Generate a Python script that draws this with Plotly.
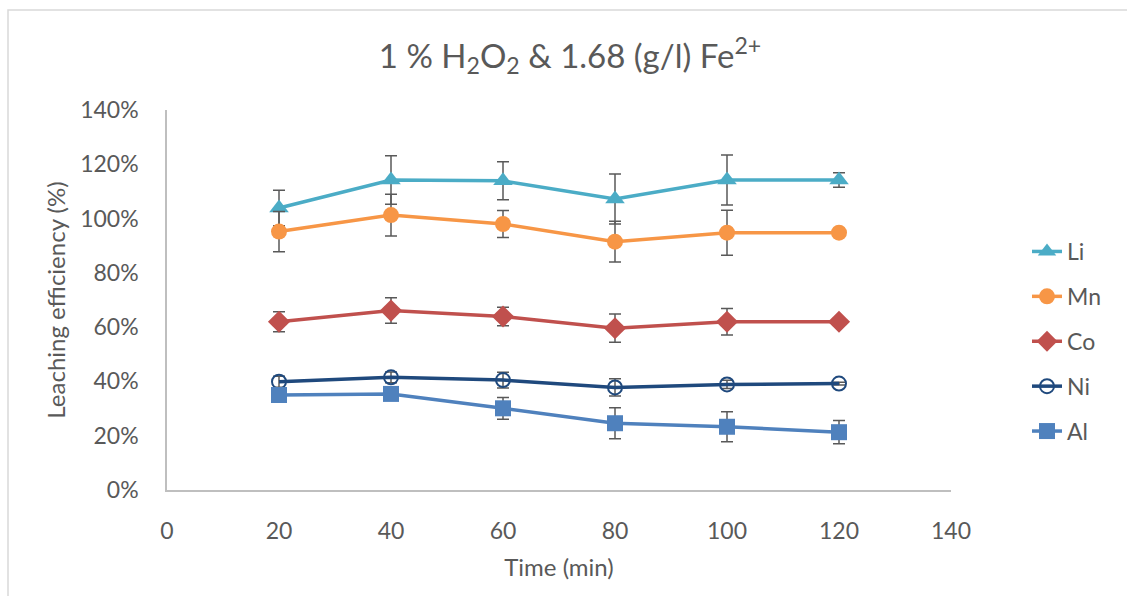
import plotly.graph_objects as go

# Leaching time (min)
time_min = [20, 40, 60, 80, 100, 120]

# Leaching efficiency (%) and standard deviations per metal
li = [103.9, 114.2, 113.9, 107.2, 114.2, 114.2]
li_err = [6.5, 8.9, 7.0, 9.2, 9.2, 2.7]

mn = [95.2, 101.3, 98.0, 91.5, 94.8, 94.8]
mn_err = [7.4, 7.7, 5.0, 7.5, 8.3, 0.5]

co = [62.0, 66.1, 63.9, 59.6, 62.0, 62.0]
co_err = [3.7, 4.7, 3.4, 5.2, 4.9, 0.5]

ni = [39.9, 41.5, 40.5, 37.8, 38.9, 39.2]
ni_err = [2.0, 2.0, 2.9, 3.2, 1.5, 0.5]

al = [35.0, 35.4, 30.1, 24.6, 23.3, 21.3]
al_err = [1.0, 1.0, 4.0, 5.7, 5.5, 4.3]

x_ticks = [0, 20, 40, 60, 80, 100, 120, 140]
y_ticks = [0, 20, 40, 60, 80, 100, 120, 140]

FONT = "Lato"
TXT = "#595959"

series = [
    ("Li", li, li_err, "#4BACC6", "triangle-up", 17),
    ("Mn", mn, mn_err, "#F79646", "circle", 16),
    ("Co", co, co_err, "#C0504D", "diamond", 17),
    ("Ni", ni, ni_err, "#1F497D", "circle-open", 14),
    ("Al", al, al_err, "#4F81BD", "square", 16),
]

fig = go.Figure()
for name, vals, errs, color, symbol, size in series:
    marker = dict(symbol=symbol, size=size, color=color)
    if symbol == "circle-open":
        marker["line"] = dict(color=color, width=2)
    fig.add_trace(go.Scatter(
        x=time_min, y=vals, name=name, mode="lines+markers",
        legendgroup=name,
        line=dict(color=color, width=3.5),
        marker=marker,
        error_y=dict(type="data", array=errs, visible=True,
                     color="#595959", thickness=1.5, width=6),
    ))

W, H = 1127, 596
L, R, T, B = 167, 951, 110, 490
pw, ph = R - L, B - T

fig.update_layout(
    width=W, height=H,
    margin=dict(l=L, r=W - R, t=T, b=H - B),
    paper_bgcolor="white", plot_bgcolor="white",
    font=dict(family=FONT, color=TXT, size=23),
    title=dict(
        text="1 % H<sub>2</sub>O<sub>2</sub> &amp; 1.68 (g/l) Fe<sup>2+</sup>",
        x=570 / W, xanchor="center",
        y=1 - 56 / H, yanchor="middle",
        font=dict(family=FONT, size=33, color=TXT),
    ),
    showlegend=True,
    legend=dict(
        x=(1027 - L) / pw, xanchor="left",
        y=(B - 230) / ph, yanchor="top",
        font=dict(family=FONT, size=23, color=TXT),
        tracegroupgap=12,
        bgcolor="rgba(0,0,0,0)",
    ),
    xaxis=dict(
        range=[0, 140], tickvals=x_ticks, ticktext=[str(v) for v in x_ticks],
        showgrid=False, zeroline=False, showline=True,
        linecolor="#BFBFBF", linewidth=1.5, ticks="",
        ticklabelstandoff=20,
        tickfont=dict(family=FONT, size=23, color=TXT),
        title=dict(text="Time (min)", standoff=16,
                   font=dict(family=FONT, size=24, color=TXT)),
    ),
    yaxis=dict(
        range=[0, 140], tickvals=y_ticks, ticktext=[f"{v}%" for v in y_ticks],
        showgrid=False, zeroline=False, showline=True,
        linecolor="#BFBFBF", linewidth=1.5, ticks="",
        ticklabelstandoff=22,
        tickfont=dict(family=FONT, size=23, color=TXT),
        title=dict(text="Leaching efficiency (%)", standoff=8,
                   font=dict(family=FONT, size=24, color=TXT)),
    ),
    shapes=[dict(
        type="rect", xref="paper", yref="paper",
        x0=(8 - L) / pw, x1=(W + 40 - L) / pw,
        y0=(B - (H + 40)) / ph, y1=(B - 10) / ph,
        line=dict(color="#D9D9D9", width=1.5), fillcolor="rgba(0,0,0,0)",
        layer="below",
    )],
)

fig.write_html(
    "out.html",
    post_script="document.body.style.margin='0';document.body.style.overflow='hidden';",
)
